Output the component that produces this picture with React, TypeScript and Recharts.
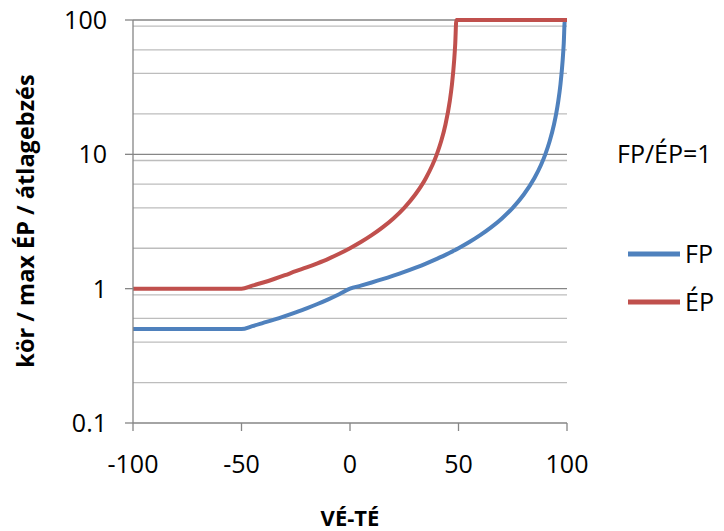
import React from 'react';
import { LineChart, Line, XAxis, YAxis, CartesianGrid, Label } from 'recharts';

const xValues = [
  -100, -50, -45, -40, -35, -30, -25, -20, -15, -10, -5, 0, 5, 10, 15, 20, 25, 30, 35, 40, 42, 44, 46, 47, 48, 48.5, 49,
  50, 55, 60, 65, 70, 75, 80, 85, 88, 90, 92, 94, 95, 96, 97, 98, 98.5, 99, 100,
];
const fpValues = [
  0.5, 0.5, 0.526, 0.556, 0.588, 0.625, 0.667, 0.714, 0.769, 0.833, 0.909, 1, 1.053, 1.111, 1.176, 1.25, 1.333, 1.429,
  1.538, 1.667, 1.724, 1.786, 1.852, 1.887, 1.923, 1.942, 1.961, 2, 2.222, 2.5, 2.857, 3.333, 4, 5, 6.667, 8.333, 10,
  12.5, 16.67, 20, 25, 33.3, 50, 66.7, 100, 100,
];
const epValues = [
  1, 1, 1.053, 1.111, 1.18, 1.26, 1.35, 1.44, 1.545, 1.667, 1.818, 2, 2.222, 2.5, 2.857, 3.333, 4, 5, 6.667, 10, 12.5,
  16.67, 25, 33.3, 50, 66.7, 100, 100, 100, 100, 100, 100, 100, 100, 100, 100, 100, 100, 100, 100, 100, 100, 100, 100,
  100, 100,
];

const xTicks = [-100, -50, 0, 50, 100];
const yTicks = [0.1, 1, 10, 100];
const majorGrid = [1, 10, 100];
const minorGrid = [
  0.2, 0.3, 0.4, 0.5, 0.6, 0.7, 0.8, 0.9, 2, 3, 4, 5, 6, 7, 8, 9, 20, 30, 40, 50, 60, 70, 80, 90,
];

const FP_COLOR = '#4F81BD';
const EP_COLOR = '#C0504D';
const AXIS_COLOR = '#868686';
const FONT = '"Open Sans", sans-serif';

const data = xValues.map((x, i) => ({ x, fp: fpValues[i], ep: epValues[i] }));

export default function App() {
  return (
    <div style={{ position: 'absolute', left: 0, top: 0, width: 724, height: 531, background: '#fff' }}>
      <LineChart
        width={724}
        height={531}
        data={data}
        margin={{ top: 20, right: 157, bottom: 48, left: 73 }}
        style={{ fontFamily: FONT }}
      >
        <CartesianGrid vertical={false} horizontalValues={minorGrid} stroke="#bdbdbd" strokeWidth={1.3} />
        <CartesianGrid vertical={false} horizontalValues={majorGrid} stroke={AXIS_COLOR} strokeWidth={1.3} />
        <XAxis
          dataKey="x"
          type="number"
          domain={[-100, 100]}
          ticks={xTicks}
          height={60}
          tickSize={8}
          tickMargin={24}
          stroke={AXIS_COLOR}
          strokeWidth={1.3}
          tick={{ fill: '#000', fontSize: 25, fontFamily: FONT }}
        >
          <Label
            content={() => (
              <text x={350} y={526} textAnchor="middle" fontSize={22} fontWeight="bold" fontFamily={FONT} fill="#000">
                VÉ-TÉ
              </text>
            )}
          />
        </XAxis>
        <YAxis
          scale="log"
          domain={[0.1, 100]}
          ticks={yTicks}
          width={60}
          tickSize={8}
          tickMargin={18}
          stroke={AXIS_COLOR}
          strokeWidth={1.3}
          tickFormatter={(v) => String(v)}
          tick={{ fill: '#000', fontSize: 25, fontFamily: FONT }}
        >
          <Label
            content={() => (
              <text
                x={34}
                y={221}
                transform="rotate(-90, 34, 221)"
                textAnchor="middle"
                fontSize={23.5}
                fontWeight="bold"
                fontFamily={FONT}
                fill="#000"
              >
                kör / max ÉP / átlagebzés
              </text>
            )}
          />
        </YAxis>
        <Line type="monotone" dataKey="fp" name="FP" stroke={FP_COLOR} strokeWidth={4} dot={false} isAnimationActive={false} />
        <Line type="monotone" dataKey="ep" name="ÉP" stroke={EP_COLOR} strokeWidth={4} dot={false} isAnimationActive={false} />
      </LineChart>
      {/* legend, drawn beside the plot */}
      <svg width={724} height={531} style={{ position: 'absolute', left: 0, top: 0, pointerEvents: 'none' }}>
        <g fontFamily={FONT} fontSize={25} fill="#000">
          <text x={617} y={163}>FP/ÉP=1</text>
          <line x1={628} x2={680} y1={254} y2={254} stroke={FP_COLOR} strokeWidth={5} />
          <text x={685} y={263}>FP</text>
          <line x1={628} x2={680} y1={302} y2={302} stroke={EP_COLOR} strokeWidth={5} />
          <text x={685} y={311}>ÉP</text>
        </g>
      </svg>
    </div>
  );
}
